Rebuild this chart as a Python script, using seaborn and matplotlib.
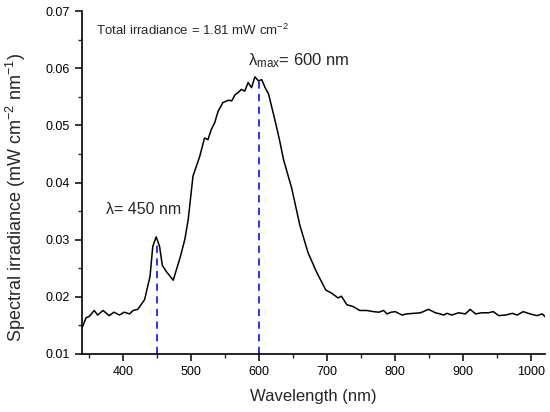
import matplotlib
matplotlib.use("Agg")
import matplotlib.pyplot as plt
import seaborn as sns
import pandas as pd
from matplotlib.ticker import MultipleLocator

wavelength = [340, 346, 351, 358, 363, 371, 380, 387, 395, 402, 410, 415, 422, 432, 440,
              444, 449, 454, 458, 464, 474, 484, 491, 496, 503, 513, 520, 525, 530, 535,
              540, 547, 555, 560, 565, 569, 574, 579, 584, 589, 594, 599, 604, 609, 614,
              623, 630, 636, 648, 660, 672, 685, 698, 707, 716, 721, 729, 738, 748, 758,
              768, 776, 783, 788, 794, 800, 810, 817, 827, 837, 849, 859, 866, 871, 876,
              883, 893, 903, 910, 918, 927, 937, 944, 952, 962, 972, 979, 988, 998, 1008,
              1016, 1020]
irradiance = [0.0145, 0.0163, 0.0166, 0.0176, 0.0168, 0.0176, 0.0167, 0.0173, 0.0168, 0.0173,
              0.0170, 0.0176, 0.0178, 0.0195, 0.0236, 0.0288, 0.0305, 0.0288, 0.0255, 0.0244,
              0.0229, 0.0268, 0.0300, 0.0335, 0.0411, 0.0446, 0.0478, 0.0475, 0.0493, 0.0505,
              0.0525, 0.0540, 0.0544, 0.0543, 0.0554, 0.0557, 0.0563, 0.0560, 0.0575, 0.0566,
              0.0585, 0.0578, 0.0580, 0.0566, 0.0555, 0.0511, 0.0475, 0.0440, 0.0390, 0.0325,
              0.0277, 0.0242, 0.0212, 0.0206, 0.0198, 0.0201, 0.0186, 0.0183, 0.0176, 0.0176,
              0.0174, 0.0173, 0.0176, 0.0170, 0.0173, 0.0174, 0.0168, 0.0170, 0.0171, 0.0172,
              0.0178, 0.0172, 0.0170, 0.0168, 0.0171, 0.0168, 0.0172, 0.0170, 0.0178, 0.0170,
              0.0172, 0.0172, 0.0174, 0.0167, 0.0168, 0.0171, 0.0168, 0.0174, 0.0170, 0.0167,
              0.0170, 0.0165]

peak_wl = [450, 600]
peak_top = [0.0297, 0.0577]

xticks = [400, 500, 600, 700, 800, 900, 1000]
yticks = [0.01, 0.02, 0.03, 0.04, 0.05, 0.06, 0.07]

sns.set_style("ticks")
plt.rcParams['font.family'] = ['Liberation Sans', 'DejaVu Sans']
plt.rcParams['mathtext.fontset'] = 'custom'
plt.rcParams['mathtext.rm'] = 'Liberation Sans'
plt.rcParams['mathtext.it'] = 'Liberation Sans:italic'

df = pd.DataFrame({"Wavelength": wavelength, "Irradiance": irradiance})

fig = plt.figure(figsize=(5.5, 4.12), dpi=100)
ax = fig.add_axes([0.149, 0.141, 0.842, 0.832])

ax.vlines(peak_wl, 0.01, peak_top, colors='#1f1fff', linestyles=(0, (4, 3)), linewidth=1.3, zorder=1)
sns.lineplot(data=df, x="Wavelength", y="Irradiance", color='black', linewidth=1.1, ax=ax, zorder=2)

ax.set_xlim(340, 1020)
ax.set_ylim(0.01, 0.07)
ax.set_xticks(xticks)
ax.set_yticks(yticks)
ax.set_yticklabels([f"{v:.2f}" for v in yticks])
ax.xaxis.set_minor_locator(MultipleLocator(50))
ax.yaxis.set_minor_locator(MultipleLocator(0.005))
ax.tick_params(which='major', direction='out', length=5, width=1.1, labelsize=9, colors='black')
ax.tick_params(which='minor', direction='out', length=3, width=1.0)

for s in ['top', 'right']:
    ax.spines[s].set_visible(False)
for s in ['left', 'bottom']:
    ax.spines[s].set_linewidth(1.2)
    ax.spines[s].set_color('black')

ax.set_xlabel("Wavelength (nm)", fontsize=12, labelpad=8)
ax.set_ylabel("Spectral irradiance (mW cm$^{-2}$ nm$^{-1}$)", fontsize=13)
ax.yaxis.set_label_coords(-0.117, 0.455)

ax.text(0.03, 0.945, "Total irradiance = 1.81 mW cm$^{-2}$", transform=ax.transAxes,
        fontsize=9.5, va='center', ha='left')
ax.text(0.358, 0.855, r"λ$_{\rm max}$= 600 nm", transform=ax.transAxes,
        fontsize=12, va='center', ha='left')
ax.text(0.052, 0.42, "λ= 450 nm", transform=ax.transAxes,
        fontsize=11.5, va='center', ha='left')

fig.savefig("out.png", dpi=100)
